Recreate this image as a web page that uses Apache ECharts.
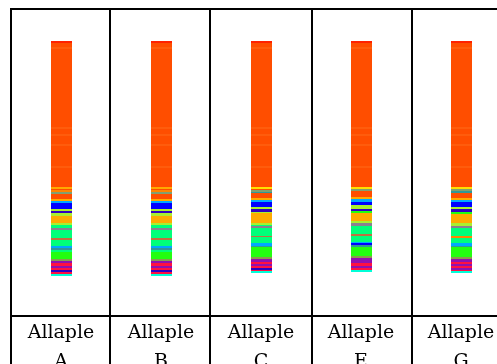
<!DOCTYPE html>
<html>
<head>
<meta charset="utf-8">
<script src="https://cdn.jsdelivr.net/npm/echarts@6/dist/echarts.min.js"></script>
<style>
  html, body { margin: 0; padding: 0; background: #fff; }
  #chart { width: 497px; height: 364px; }
</style>
</head>
<body>
<div id="chart"></div>
<script>
// colour of each byte-class value used in the strips
const palette = [
  "#ff4e00", // 0 base
  "#ff5c0c", // 1 light stripe
  "#ff2200", // 2 red
  "#ffaa00", // 3 yellow-orange
  "#ffe000", // 4 yellow
  "#a8f030", // 5 yellow-green
  "#00ff7a", // 6 spring green
  "#22ff10", // 7 green
  "#0000ff", // 8 blue
  "#00a8ff", // 9 sky
  "#00ffd8", // 10 cyan
  "#8a8090", // 11 gray
  "#9010b0", // 12 purple
  "#ff1040", // 13 red-pink
  "#c07040", // 14 brown
  "#309898", // 15 teal
  "#ff8400", // 16 orange
  "#8a9a50", // 17 olive
  "#3000c0", // 18 dark blue
  "#80a070"  // 19 gray-green
];

const families = ["Allaple\nA", "Allaple\nB", "Allaple\nC", "Allaple\nE", "Allaple\nG"];

// each strip: [length, value] from top to bottom
const headBands = [[2,2],[4,0],[2,1],[78,0],[2,1],[5,0],[2,1],[8,0],[2,1],[20,0],[2,1],[19,0]];

const stripA = headBands.concat([
  [2,3],[1,0],[2,16],[2,19],[5,0],[2,3],[2,9],[6,8],
  [2,5],[2,18],[3,5],[7,3],[2,5],[3,6],[2,11],[8,6],[2,14],[6,6],
  [2,9],[2,15],[2,6],[7,7],[2,17],
  [2,12],[3,13],[2,12],[2,13],[2,18],[2,13],[2,10]
]);
const stripB = stripA.slice();
const stripC = headBands.concat([
  [2,4],[1,0],[2,19],[1,15],[5,0],[2,3],[2,9],[5,8],
  [2,5],[3,18],[1,5],[10,3],[2,5],[1,6],[2,11],
  [8,6],[1,14],[6,6],[3,9],[1,15],[10,7],
  [2,17],[3,12],[2,13],[2,12],[2,13],[2,18],[1,13],[2,10]
]);
const stripE = headBands.concat([
  [2,4],[2,19],[6,0],[2,3],[3,9],[3,8],
  [4,5],[2,18],[2,7],[8,3],[2,5],[3,11],
  [8,6],[2,14],[6,6],[1,9],[2,8],[2,15],[9,7],
  [2,17],[3,12],[2,12],[3,13],[2,12],[2,13],[2,10]
]);
const stripG = headBands.concat([
  [2,4],[2,19],[2,15],[5,0],[2,3],[2,9],[5,8],
  [2,5],[3,18],[2,7],[9,3],[3,5],[2,11],
  [8,6],[2,16],[5,6],[3,9],[1,15],[10,7],
  [2,17],[3,12],[2,13],[2,12],[2,13],[2,12],[1,13],[2,10]
]);
const strips = [stripA, stripB, stripC, stripE, stripG];

const data = [];
strips.forEach((bands, i) => {
  let start = 0;
  bands.forEach(([len, v]) => {
    data.push([i, start, start + len, v]);
    start += len;
  });
});

const chart = echarts.init(document.getElementById("chart"));

const line = (x1, y1, x2, y2) => ({
  type: "line",
  shape: { x1, y1, x2, y2 },
  style: { stroke: "#000", lineWidth: 2 },
  silent: true
});

chart.setOption({
  animation: false,
  grid: { left: 11, top: 41, width: 500, height: 235, containLabel: false, outerBoundsMode: "none" },
  xAxis: {
    type: "category",
    data: families,
    axisLine: { show: false },
    axisTick: { show: false },
    axisLabel: {
      margin: 43,
      color: "#000",
      fontFamily: "DejaVu Serif",
      fontSize: 19,
      lineHeight: 29
    }
  },
  yAxis: { type: "value", min: 0, max: 235, inverse: true, show: false },
  series: [{
    type: "custom",
    data: data,
    renderItem: (params, api) => {
      const p0 = api.coord([api.value(0), api.value(1)]);
      const p1 = api.coord([api.value(0), api.value(2)]);
      const w = 21;
      return {
        type: "rect",
        shape: { x: Math.round(p0[0] - w / 2), y: p0[1], width: w, height: p1[1] - p0[1] },
        style: { fill: palette[api.value(3)] }
      };
    }
  }],
  graphic: [
    line(10, 9, 497, 9),
    line(11, 8, 11, 364),
    line(110, 8, 110, 364),
    line(210, 8, 210, 364),
    line(312, 8, 312, 364),
    line(412, 8, 412, 364),
    line(10, 316, 497, 316)
  ]
});
</script>
</body>
</html>
